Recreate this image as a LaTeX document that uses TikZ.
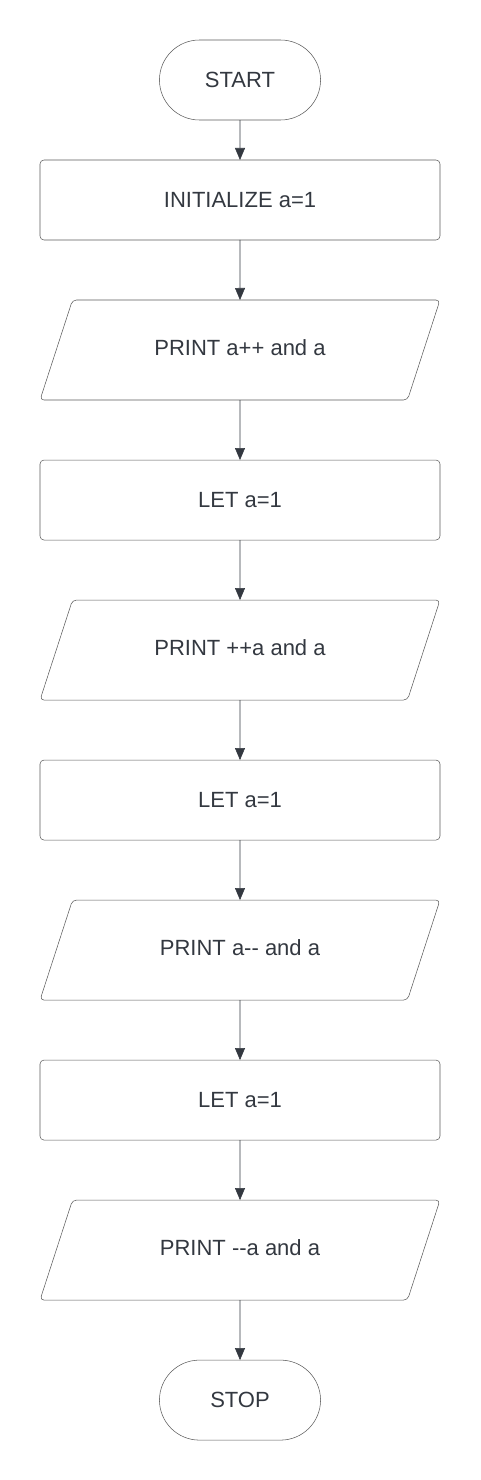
\documentclass[tikz,border=0pt]{standalone}
\usepackage{fontspec}
\setmainfont{Liberation Sans}
\usetikzlibrary{positioning,shapes.geometric,shapes.misc,arrows.meta}
\definecolor{linegray}{HTML}{5A5A5A}
\definecolor{textgray}{HTML}{333840}
\begin{document}
\begin{tikzpicture}[%
                node distance=45pt,
                every node/.style={text=textgray, outer sep=0pt, font=\fontsize{16.5}{20}\selectfont},
                myterm/.style={shape=rounded rectangle, draw=linegray, thin,
                    minimum width=127.5pt, minimum height=60pt},
                mybox/.style={shape=rectangle, draw=linegray, thin, rounded corners=3pt,
                    minimum width=300pt, minimum height=60pt},
                myio/.style={shape=trapezium, trapezium left angle=72, trapezium right angle=108,
                    trapezium stretches body, draw=linegray, thin, rounded corners=3pt,
                    text height=12pt, text depth=3.5pt, inner ysep=29.75pt,
                    minimum width=300pt, minimum height=75pt},
                myarrow/.style={draw=textgray, thin, -{Triangle[width=7.5pt,length=9pt]}}
        ]
            \useasboundingbox (0,0) rectangle (360pt,-1110pt);
            \node [myterm] (start) at (180pt,-60pt) {START};
            \node [mybox, below=30pt of start] (init) {INITIALIZE a=1};
            \node [myio, below=of init] (print1) {PRINT a++ and a};
            \node [mybox, below=of print1] (let1) {LET a=1};
            \node [myio, below=of let1] (print2) {PRINT ++a and a};
            \node [mybox, below=of print2] (let2) {LET a=1};
            \node [myio, below=of let2] (print3) {PRINT a{-}{-} and a};
            \node [mybox, below=of print3] (let3) {LET a=1};
            \node [myio, below=of let3] (print4) {PRINT {-}{-}a and a};
            \node [myterm, below=of print4] (stop) {STOP};
            \foreach \a/\b in {start/init, init/print1, print1/let1, let1/print2,
                print2/let2, let2/print3, print3/let3, let3/print4, print4/stop} {
                \draw [myarrow] (\a) -- (\b);
            }
        \end{tikzpicture}
\end{document}
